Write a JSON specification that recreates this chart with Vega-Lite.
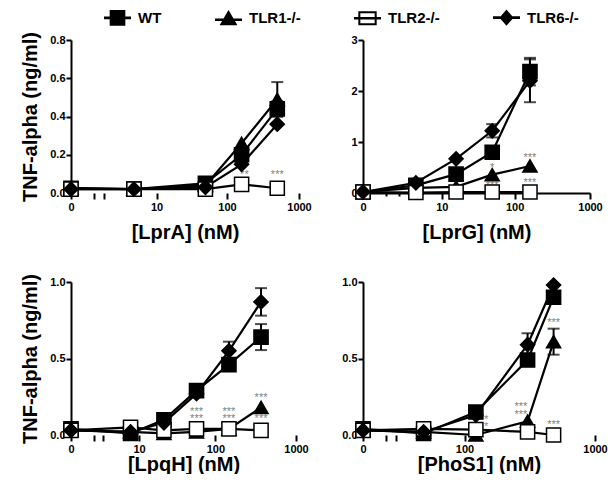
{
  "$schema": "https://vega.github.io/schema/vega-lite/v6.json",
  "padding": {"left": 20, "top": 3, "right": 0, "bottom": 0},
  "background": "white",
  "datasets": {
    "obs": [
      {"panel": "LprA", "genotype": "WT", "dose": 0, "value": 0.025},
      {"panel": "LprA", "genotype": "WT", "dose": 4.5, "value": 0.02},
      {"panel": "LprA", "genotype": "WT", "dose": 50, "value": 0.05},
      {"panel": "LprA", "genotype": "WT", "dose": 160, "value": 0.2},
      {"panel": "LprA", "genotype": "WT", "dose": 500, "value": 0.44, "err": 0.04},
      {"panel": "LprA", "genotype": "TLR1-/-", "dose": 0, "value": 0.025},
      {"panel": "LprA", "genotype": "TLR1-/-", "dose": 4.5, "value": 0.02},
      {"panel": "LprA", "genotype": "TLR1-/-", "dose": 50, "value": 0.04},
      {"panel": "LprA", "genotype": "TLR1-/-", "dose": 160, "value": 0.26},
      {"panel": "LprA", "genotype": "TLR1-/-", "dose": 500, "value": 0.49, "err": 0.09},
      {"panel": "LprA", "genotype": "TLR2-/-", "dose": 0, "value": 0.02},
      {"panel": "LprA", "genotype": "TLR2-/-", "dose": 4.5, "value": 0.02},
      {"panel": "LprA", "genotype": "TLR2-/-", "dose": 50, "value": 0.02},
      {"panel": "LprA", "genotype": "TLR2-/-", "dose": 160, "value": 0.045},
      {"panel": "LprA", "genotype": "TLR2-/-", "dose": 500, "value": 0.025},
      {"panel": "LprA", "genotype": "TLR6-/-", "dose": 0, "value": 0.02},
      {"panel": "LprA", "genotype": "TLR6-/-", "dose": 4.5, "value": 0.02},
      {"panel": "LprA", "genotype": "TLR6-/-", "dose": 50, "value": 0.03},
      {"panel": "LprA", "genotype": "TLR6-/-", "dose": 160, "value": 0.15},
      {"panel": "LprA", "genotype": "TLR6-/-", "dose": 500, "value": 0.36},

      {"panel": "LprG", "genotype": "WT", "dose": 0, "value": 0.02},
      {"panel": "LprG", "genotype": "WT", "dose": 4, "value": 0.15},
      {"panel": "LprG", "genotype": "WT", "dose": 16, "value": 0.37},
      {"panel": "LprG", "genotype": "WT", "dose": 50, "value": 0.8},
      {"panel": "LprG", "genotype": "WT", "dose": 160, "value": 2.38, "err": 0.27},
      {"panel": "LprG", "genotype": "TLR1-/-", "dose": 0, "value": 0.02},
      {"panel": "LprG", "genotype": "TLR1-/-", "dose": 4, "value": 0.1},
      {"panel": "LprG", "genotype": "TLR1-/-", "dose": 16, "value": 0.12},
      {"panel": "LprG", "genotype": "TLR1-/-", "dose": 50, "value": 0.36},
      {"panel": "LprG", "genotype": "TLR1-/-", "dose": 160, "value": 0.53},
      {"panel": "LprG", "genotype": "TLR2-/-", "dose": 0, "value": 0.02},
      {"panel": "LprG", "genotype": "TLR2-/-", "dose": 4, "value": 0.01},
      {"panel": "LprG", "genotype": "TLR2-/-", "dose": 16, "value": 0.02},
      {"panel": "LprG", "genotype": "TLR2-/-", "dose": 50, "value": 0.02},
      {"panel": "LprG", "genotype": "TLR2-/-", "dose": 160, "value": 0.02},
      {"panel": "LprG", "genotype": "TLR6-/-", "dose": 0, "value": 0.02},
      {"panel": "LprG", "genotype": "TLR6-/-", "dose": 4, "value": 0.2},
      {"panel": "LprG", "genotype": "TLR6-/-", "dose": 16, "value": 0.67},
      {"panel": "LprG", "genotype": "TLR6-/-", "dose": 50, "value": 1.22, "err": 0.13},
      {"panel": "LprG", "genotype": "TLR6-/-", "dose": 160, "value": 2.2, "err": 0.42},

      {"panel": "LpqH", "genotype": "WT", "dose": 0, "value": 0.04},
      {"panel": "LpqH", "genotype": "WT", "dose": 7.5, "value": 0.01},
      {"panel": "LpqH", "genotype": "WT", "dose": 22, "value": 0.1},
      {"panel": "LpqH", "genotype": "WT", "dose": 58, "value": 0.29},
      {"panel": "LpqH", "genotype": "WT", "dose": 148, "value": 0.46},
      {"panel": "LpqH", "genotype": "WT", "dose": 370, "value": 0.64, "err": 0.085},
      {"panel": "LpqH", "genotype": "TLR1-/-", "dose": 0, "value": 0.03},
      {"panel": "LpqH", "genotype": "TLR1-/-", "dose": 7.5, "value": 0.02},
      {"panel": "LpqH", "genotype": "TLR1-/-", "dose": 22, "value": 0.01},
      {"panel": "LpqH", "genotype": "TLR1-/-", "dose": 58, "value": 0.02},
      {"panel": "LpqH", "genotype": "TLR1-/-", "dose": 148, "value": 0.04},
      {"panel": "LpqH", "genotype": "TLR1-/-", "dose": 370, "value": 0.18},
      {"panel": "LpqH", "genotype": "TLR2-/-", "dose": 0, "value": 0.03},
      {"panel": "LpqH", "genotype": "TLR2-/-", "dose": 7.5, "value": 0.05},
      {"panel": "LpqH", "genotype": "TLR2-/-", "dose": 22, "value": 0.03},
      {"panel": "LpqH", "genotype": "TLR2-/-", "dose": 58, "value": 0.04},
      {"panel": "LpqH", "genotype": "TLR2-/-", "dose": 148, "value": 0.04},
      {"panel": "LpqH", "genotype": "TLR2-/-", "dose": 370, "value": 0.03},
      {"panel": "LpqH", "genotype": "TLR6-/-", "dose": 0, "value": 0.03},
      {"panel": "LpqH", "genotype": "TLR6-/-", "dose": 7.5, "value": 0.02},
      {"panel": "LpqH", "genotype": "TLR6-/-", "dose": 22, "value": 0.08},
      {"panel": "LpqH", "genotype": "TLR6-/-", "dose": 58, "value": 0.27},
      {"panel": "LpqH", "genotype": "TLR6-/-", "dose": 148, "value": 0.55, "err": 0.06},
      {"panel": "LpqH", "genotype": "TLR6-/-", "dose": 370, "value": 0.87, "err": 0.09},

      {"panel": "PhoS1", "genotype": "WT", "dose": 0, "value": 0.04},
      {"panel": "PhoS1", "genotype": "WT", "dose": 40, "value": 0.01},
      {"panel": "PhoS1", "genotype": "WT", "dose": 125, "value": 0.15},
      {"panel": "PhoS1", "genotype": "WT", "dose": 320, "value": 0.49},
      {"panel": "PhoS1", "genotype": "WT", "dose": 500, "value": 0.9, "err": 0.03},
      {"panel": "PhoS1", "genotype": "TLR1-/-", "dose": 0, "value": 0.03},
      {"panel": "PhoS1", "genotype": "TLR1-/-", "dose": 40, "value": 0.02},
      {"panel": "PhoS1", "genotype": "TLR1-/-", "dose": 125, "value": 0.0},
      {"panel": "PhoS1", "genotype": "TLR1-/-", "dose": 320, "value": 0.09},
      {"panel": "PhoS1", "genotype": "TLR1-/-", "dose": 500, "value": 0.61, "err": 0.085},
      {"panel": "PhoS1", "genotype": "TLR2-/-", "dose": 0, "value": 0.03},
      {"panel": "PhoS1", "genotype": "TLR2-/-", "dose": 40, "value": 0.04},
      {"panel": "PhoS1", "genotype": "TLR2-/-", "dose": 125, "value": 0.035},
      {"panel": "PhoS1", "genotype": "TLR2-/-", "dose": 320, "value": 0.02},
      {"panel": "PhoS1", "genotype": "TLR2-/-", "dose": 500, "value": 0.0},
      {"panel": "PhoS1", "genotype": "TLR6-/-", "dose": 0, "value": 0.03},
      {"panel": "PhoS1", "genotype": "TLR6-/-", "dose": 40, "value": 0.02},
      {"panel": "PhoS1", "genotype": "TLR6-/-", "dose": 125, "value": 0.13},
      {"panel": "PhoS1", "genotype": "TLR6-/-", "dose": 320, "value": 0.59, "err": 0.075},
      {"panel": "PhoS1", "genotype": "TLR6-/-", "dose": 500, "value": 0.98}
    ],
    "stars": [
      {"panel": "LprA", "dose": 175, "value": 0.11, "label": "**"},
      {"panel": "LprA", "dose": 500, "value": 0.11, "label": "***"},
      {"panel": "LprG", "dose": 50, "value": 0.55, "label": "*"},
      {"panel": "LprG", "dose": 50, "value": 0.19, "label": "***"},
      {"panel": "LprG", "dose": 160, "value": 0.75, "label": "***"},
      {"panel": "LprG", "dose": 160, "value": 0.26, "label": "***"},
      {"panel": "LpqH", "dose": 58, "value": 0.17, "label": "***"},
      {"panel": "LpqH", "dose": 58, "value": 0.125, "label": "***"},
      {"panel": "LpqH", "dose": 148, "value": 0.17, "label": "***"},
      {"panel": "LpqH", "dose": 148, "value": 0.125, "label": "***"},
      {"panel": "LpqH", "dose": 370, "value": 0.26, "label": "***"},
      {"panel": "LpqH", "dose": 370, "value": 0.125, "label": "***"},
      {"panel": "PhoS1", "dose": 152, "value": 0.12, "label": "*"},
      {"panel": "PhoS1", "dose": 152, "value": 0.07, "label": "*"},
      {"panel": "PhoS1", "dose": 285, "value": 0.2, "label": "***"},
      {"panel": "PhoS1", "dose": 285, "value": 0.15, "label": "***"},
      {"panel": "PhoS1", "dose": 500, "value": 0.75, "label": "***"},
      {"panel": "PhoS1", "dose": 500, "value": 0.083, "label": "***"}
    ]
  },
  "columns": 2,
  "spacing": {"row": 89, "column": 64},
  "bounds": "flush",
  "align": "each",
  "concat": [
    {
      "width": 228, "height": 153,
      "data": {"name": "obs"},
      "transform": [{"filter": "datum.panel === 'LprA'"}],
      "encoding": {
        "x": {"field": "dose", "type": "quantitative",
          "scale": {"type": "symlog", "constant": 0.7, "domain": [0, 1000], "nice": false, "zero": false},
          "axis": {"title": "[LprA] (nM)", "values": [0, 0.75, 1.3, 10, 100, 1000], "labelExpr": "datum.value == 0 || datum.value == 10 || datum.value == 100 || datum.value == 1000 ? format(datum.value, 'd') : ''", "domain": false, "tickSize": 6, "labelPadding": 2, "titlePadding": 10, "labelFlush": false, "labelOverlap": false}},
        "y": {"field": "value", "type": "quantitative",
          "scale": {"domain": [0, 0.8], "nice": false},
          "axis": {"title": "TNF-alpha (ng/ml)", "values": [0, 0.2, 0.4, 0.6, 0.8], "format": ".1f", "tickSize": 5, "labelPadding": 1, "titlePadding": 9}}
      },
      "layer": [
        {"data": {"values": [{}]}, "mark": {"type": "rule", "color": "black", "strokeWidth": 2}, "encoding": {"x": {"datum": 0}, "x2": {"datum": 0.75}, "y": {"datum": 0}}},
        {"data": {"values": [{}]}, "mark": {"type": "rule", "color": "black", "strokeWidth": 2}, "encoding": {"x": {"datum": 1.3}, "x2": {"datum": 1000}, "y": {"datum": 0}}},
        {"transform": [{"filter": "isValid(datum.err)"}], "mark": {"type": "errorbar", "ticks": true, "size": 12, "thickness": 2, "color": "black"}, "encoding": {"yError": {"field": "err"}}},
        {"mark": {"type": "line", "color": "black", "strokeWidth": 2.2}, "encoding": {"detail": {"field": "genotype"}}},
        {"data": {"name": "stars"}, "transform": [{"filter": "datum.panel === 'LprA'"}], "mark": {"type": "text", "color": "#808080", "fontSize": 11, "font": "Liberation Sans", "baseline": "middle", "dy": 3}, "encoding": {"text": {"field": "label"}}},
        {"transform": [{"filter": "datum.genotype === 'WT'"}], "mark": {"type": "point", "shape": "square", "filled": true, "fill": "black", "stroke": "black", "strokeWidth": 1.5, "size": 200, "opacity": 1}},
        {"transform": [{"filter": "datum.genotype === 'TLR1-/-'"}], "mark": {"type": "point", "shape": "triangle-up", "filled": true, "fill": "black", "stroke": "black", "strokeWidth": 1.5, "size": 200, "opacity": 1}},
        {"transform": [{"filter": "datum.genotype === 'TLR2-/-'"}], "mark": {"type": "point", "shape": "square", "filled": true, "fill": "white", "stroke": "black", "strokeWidth": 1.5, "size": 200, "opacity": 1}},
        {"transform": [{"filter": "datum.genotype === 'TLR6-/-'"}], "mark": {"type": "point", "shape": "diamond", "filled": true, "fill": "black", "stroke": "black", "strokeWidth": 1.5, "size": 200, "opacity": 1}},
        {"mark": {"type": "point", "filled": true, "color": "black", "opacity": 0, "size": 10},
          "encoding": {
            "shape": {"field": "genotype", "type": "nominal", "scale": {"domain": ["WT", "TLR1-/-", "TLR2-/-", "TLR6-/-"], "range": ["M-1,-0.1H1V0.1H-1ZM-0.58,-0.58H0.58V0.58H-0.58Z", "M-1,0H1V0.2H-1ZM0,-0.62L0.66,0.5H-0.66Z", "M-1,-0.1H1V0.1H-1ZM-0.68,-0.52H0.68V0.52H-0.68ZM-0.53,-0.37V0.37H0.53V-0.37Z", "M-1,-0.1H1V0.1H-1ZM0,-0.6L0.52,0L0,0.6L-0.52,0Z"]},
              "legend": {"title": null, "orient": "none", "legendX": 32, "legendY": -37, "direction": "horizontal", "columns": 4, "columnPadding": 50, "symbolSize": 729, "symbolOpacity": 1, "symbolFillColor": "black", "labelFontSize": 15, "labelFont": "Liberation Sans", "labelFontWeight": "bold", "labelOffset": 6, "labelColor": "black"}}
          }}
      ]
    },
    {
      "width": 227, "height": 153,
      "data": {"name": "obs"},
      "transform": [{"filter": "datum.panel === 'LprG'"}],
      "encoding": {
        "x": {"field": "dose", "type": "quantitative",
          "scale": {"type": "symlog", "constant": 1, "domain": [0, 1000], "nice": false, "zero": false},
          "axis": {"title": "[LprG] (nM)", "values": [0, 1, 2, 3, 10, 100, 1000], "labelExpr": "datum.value == 0 || datum.value == 10 || datum.value == 100 || datum.value == 1000 ? format(datum.value, 'd') : ''", "tickSize": {"condition": {"test": "datum.value == 1 || datum.value == 2 || datum.value == 3", "value": 3}, "value": 6}, "labelPadding": 2, "titlePadding": 10, "labelFlush": false, "labelOverlap": false}},
        "y": {"field": "value", "type": "quantitative",
          "scale": {"domain": [0, 3], "nice": false},
          "axis": {"title": null, "values": [0, 1, 2, 3], "format": "d", "tickSize": 5, "labelPadding": 1}}
      },
      "layer": [
        {"transform": [{"filter": "isValid(datum.err)"}], "mark": {"type": "errorbar", "ticks": true, "size": 12, "thickness": 2, "color": "black"}, "encoding": {"yError": {"field": "err"}}},
        {"mark": {"type": "line", "color": "black", "strokeWidth": 2.2}, "encoding": {"detail": {"field": "genotype"}}},
        {"data": {"name": "stars"}, "transform": [{"filter": "datum.panel === 'LprG'"}], "mark": {"type": "text", "color": "#808080", "fontSize": 11, "font": "Liberation Sans", "baseline": "middle", "dy": 3}, "encoding": {"text": {"field": "label"}}},
        {"transform": [{"filter": "datum.genotype === 'WT'"}], "mark": {"type": "point", "shape": "square", "filled": true, "fill": "black", "stroke": "black", "strokeWidth": 1.5, "size": 200, "opacity": 1}},
        {"transform": [{"filter": "datum.genotype === 'TLR1-/-'"}], "mark": {"type": "point", "shape": "triangle-up", "filled": true, "fill": "black", "stroke": "black", "strokeWidth": 1.5, "size": 200, "opacity": 1}},
        {"transform": [{"filter": "datum.genotype === 'TLR2-/-'"}], "mark": {"type": "point", "shape": "square", "filled": true, "fill": "white", "stroke": "black", "strokeWidth": 1.5, "size": 200, "opacity": 1}},
        {"transform": [{"filter": "datum.genotype === 'TLR6-/-'"}], "mark": {"type": "point", "shape": "diamond", "filled": true, "fill": "black", "stroke": "black", "strokeWidth": 1.5, "size": 200, "opacity": 1}},
        {"mark": {"type": "point", "filled": true, "color": "black", "opacity": 0, "size": 10},
          "encoding": {
            "shape": {"field": "genotype", "type": "nominal", "scale": {"domain": ["WT", "TLR1-/-", "TLR2-/-", "TLR6-/-"], "range": ["M-1,-0.1H1V0.1H-1ZM-0.58,-0.58H0.58V0.58H-0.58Z", "M-1,0H1V0.2H-1ZM0,-0.62L0.66,0.5H-0.66Z", "M-1,-0.1H1V0.1H-1ZM-0.68,-0.52H0.68V0.52H-0.68ZM-0.53,-0.37V0.37H0.53V-0.37Z", "M-1,-0.1H1V0.1H-1ZM0,-0.6L0.52,0L0,0.6L-0.52,0Z"]},
              "legend": {"title": null, "orient": "none", "legendX": 32, "legendY": -37, "direction": "horizontal", "columns": 4, "columnPadding": 50, "symbolSize": 729, "symbolOpacity": 1, "symbolFillColor": "black", "labelFontSize": 15, "labelFont": "Liberation Sans", "labelFontWeight": "bold", "labelOffset": 6, "labelColor": "black"}}
          }}
      ]
    },
    {
      "width": 225, "height": 153,
      "data": {"name": "obs"},
      "transform": [{"filter": "datum.panel === 'LpqH'"}],
      "encoding": {
        "x": {"field": "dose", "type": "quantitative",
          "scale": {"type": "symlog", "constant": 1.7, "domain": [0, 1000], "nice": false, "zero": false},
          "axis": {"title": "[LpqH] (nM)", "values": [0, 1.6, 2.5, 10, 100, 1000], "labelExpr": "datum.value == 0 || datum.value == 10 || datum.value == 100 || datum.value == 1000 ? format(datum.value, 'd') : ''", "domain": false, "tickSize": 6, "labelPadding": 2, "titlePadding": 0, "labelFlush": false, "labelOverlap": false}},
        "y": {"field": "value", "type": "quantitative",
          "scale": {"domain": [0, 1], "nice": false},
          "axis": {"title": "TNF-alpha (ng/ml)", "values": [0, 0.5, 1], "format": ".1f", "tickSize": 5, "labelPadding": 1, "titlePadding": 9}}
      },
      "layer": [
        {"data": {"values": [{}]}, "mark": {"type": "rule", "color": "black", "strokeWidth": 2}, "encoding": {"x": {"datum": 0}, "x2": {"datum": 1.6}, "y": {"datum": 0}}},
        {"data": {"values": [{}]}, "mark": {"type": "rule", "color": "black", "strokeWidth": 2}, "encoding": {"x": {"datum": 2.5}, "x2": {"datum": 1000}, "y": {"datum": 0}}},
        {"transform": [{"filter": "isValid(datum.err)"}], "mark": {"type": "errorbar", "ticks": true, "size": 12, "thickness": 2, "color": "black"}, "encoding": {"yError": {"field": "err"}}},
        {"mark": {"type": "line", "color": "black", "strokeWidth": 2.2}, "encoding": {"detail": {"field": "genotype"}}},
        {"data": {"name": "stars"}, "transform": [{"filter": "datum.panel === 'LpqH'"}], "mark": {"type": "text", "color": "#808080", "fontSize": 11, "font": "Liberation Sans", "baseline": "middle", "dy": 3}, "encoding": {"text": {"field": "label"}}},
        {"transform": [{"filter": "datum.genotype === 'WT'"}], "mark": {"type": "point", "shape": "square", "filled": true, "fill": "black", "stroke": "black", "strokeWidth": 1.5, "size": 200, "opacity": 1}},
        {"transform": [{"filter": "datum.genotype === 'TLR1-/-'"}], "mark": {"type": "point", "shape": "triangle-up", "filled": true, "fill": "black", "stroke": "black", "strokeWidth": 1.5, "size": 200, "opacity": 1}},
        {"transform": [{"filter": "datum.genotype === 'TLR2-/-'"}], "mark": {"type": "point", "shape": "square", "filled": true, "fill": "white", "stroke": "black", "strokeWidth": 1.5, "size": 200, "opacity": 1}},
        {"transform": [{"filter": "datum.genotype === 'TLR6-/-'"}], "mark": {"type": "point", "shape": "diamond", "filled": true, "fill": "black", "stroke": "black", "strokeWidth": 1.5, "size": 200, "opacity": 1}},
        {"mark": {"type": "point", "filled": true, "color": "black", "opacity": 0, "size": 10},
          "encoding": {
            "shape": {"field": "genotype", "type": "nominal", "scale": {"domain": ["WT", "TLR1-/-", "TLR2-/-", "TLR6-/-"], "range": ["M-1,-0.1H1V0.1H-1ZM-0.58,-0.58H0.58V0.58H-0.58Z", "M-1,0H1V0.2H-1ZM0,-0.62L0.66,0.5H-0.66Z", "M-1,-0.1H1V0.1H-1ZM-0.68,-0.52H0.68V0.52H-0.68ZM-0.53,-0.37V0.37H0.53V-0.37Z", "M-1,-0.1H1V0.1H-1ZM0,-0.6L0.52,0L0,0.6L-0.52,0Z"]},
              "legend": {"title": null, "orient": "none", "legendX": 32, "legendY": -37, "direction": "horizontal", "columns": 4, "columnPadding": 50, "symbolSize": 729, "symbolOpacity": 1, "symbolFillColor": "black", "labelFontSize": 15, "labelFont": "Liberation Sans", "labelFontWeight": "bold", "labelOffset": 6, "labelColor": "black"}}
          }}
      ]
    },
    {
      "width": 232, "height": 153,
      "data": {"name": "obs"},
      "transform": [{"filter": "datum.panel === 'PhoS1'"}],
      "encoding": {
        "x": {"field": "dose", "type": "quantitative",
          "scale": {"type": "symlog", "constant": 24, "domain": [0, 1000], "nice": false, "zero": false},
          "axis": {"title": "[PhoS1] (nM)", "values": [0, 11, 17, 100, 1000], "labelExpr": "datum.value == 0 || datum.value == 100 || datum.value == 1000 ? format(datum.value, 'd') : ''", "domain": false, "tickSize": 6, "labelPadding": 2, "titlePadding": 0, "labelFlush": false, "labelOverlap": false}},
        "y": {"field": "value", "type": "quantitative",
          "scale": {"domain": [0, 1], "nice": false},
          "axis": {"title": null, "values": [0, 0.5, 1], "format": ".1f", "tickSize": 5, "labelPadding": 1}}
      },
      "layer": [
        {"data": {"values": [{}]}, "mark": {"type": "rule", "color": "black", "strokeWidth": 2}, "encoding": {"x": {"datum": 0}, "x2": {"datum": 11}, "y": {"datum": 0}}},
        {"data": {"values": [{}]}, "mark": {"type": "rule", "color": "black", "strokeWidth": 2}, "encoding": {"x": {"datum": 17}, "x2": {"datum": 1000}, "y": {"datum": 0}}},
        {"transform": [{"filter": "isValid(datum.err)"}], "mark": {"type": "errorbar", "ticks": true, "size": 12, "thickness": 2, "color": "black"}, "encoding": {"yError": {"field": "err"}}},
        {"mark": {"type": "line", "color": "black", "strokeWidth": 2.2}, "encoding": {"detail": {"field": "genotype"}}},
        {"data": {"name": "stars"}, "transform": [{"filter": "datum.panel === 'PhoS1'"}], "mark": {"type": "text", "color": "#808080", "fontSize": 11, "font": "Liberation Sans", "baseline": "middle", "dy": 3}, "encoding": {"text": {"field": "label"}}},
        {"transform": [{"filter": "datum.genotype === 'WT'"}], "mark": {"type": "point", "shape": "square", "filled": true, "fill": "black", "stroke": "black", "strokeWidth": 1.5, "size": 200, "opacity": 1}},
        {"transform": [{"filter": "datum.genotype === 'TLR1-/-'"}], "mark": {"type": "point", "shape": "triangle-up", "filled": true, "fill": "black", "stroke": "black", "strokeWidth": 1.5, "size": 200, "opacity": 1}},
        {"transform": [{"filter": "datum.genotype === 'TLR2-/-'"}], "mark": {"type": "point", "shape": "square", "filled": true, "fill": "white", "stroke": "black", "strokeWidth": 1.5, "size": 200, "opacity": 1}},
        {"transform": [{"filter": "datum.genotype === 'TLR6-/-'"}], "mark": {"type": "point", "shape": "diamond", "filled": true, "fill": "black", "stroke": "black", "strokeWidth": 1.5, "size": 200, "opacity": 1}},
        {"mark": {"type": "point", "filled": true, "color": "black", "opacity": 0, "size": 10},
          "encoding": {
            "shape": {"field": "genotype", "type": "nominal", "scale": {"domain": ["WT", "TLR1-/-", "TLR2-/-", "TLR6-/-"], "range": ["M-1,-0.1H1V0.1H-1ZM-0.58,-0.58H0.58V0.58H-0.58Z", "M-1,0H1V0.2H-1ZM0,-0.62L0.66,0.5H-0.66Z", "M-1,-0.1H1V0.1H-1ZM-0.68,-0.52H0.68V0.52H-0.68ZM-0.53,-0.37V0.37H0.53V-0.37Z", "M-1,-0.1H1V0.1H-1ZM0,-0.6L0.52,0L0,0.6L-0.52,0Z"]},
              "legend": {"title": null, "orient": "none", "legendX": 32, "legendY": -37, "direction": "horizontal", "columns": 4, "columnPadding": 50, "symbolSize": 729, "symbolOpacity": 1, "symbolFillColor": "black", "labelFontSize": 15, "labelFont": "Liberation Sans", "labelFontWeight": "bold", "labelOffset": 6, "labelColor": "black"}}
          }}
      ]
    }
  ],
  "config": {
    "font": "Liberation Sans",
    "view": {"stroke": null},
    "axis": {
      "grid": false,
      "domainColor": "black", "domainWidth": 2,
      "tickColor": "black", "tickWidth": 2,
      "labelFont": "Liberation Sans", "labelFontWeight": "bold", "labelFontSize": 11, "labelColor": "black",
      "titleFont": "Liberation Sans", "titleFontWeight": "bold", "titleFontSize": 20, "titleColor": "black"
    }
  }
}
